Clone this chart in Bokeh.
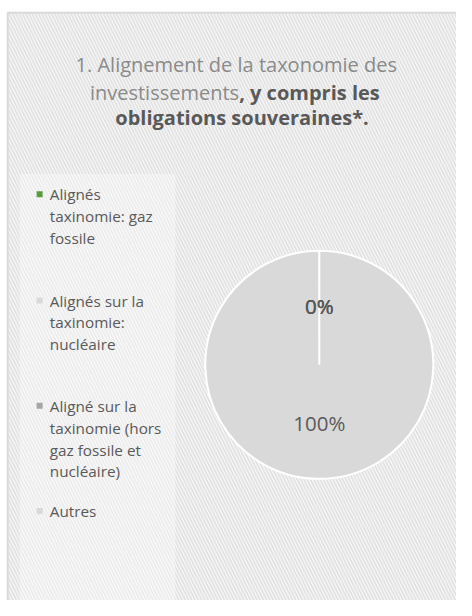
import math
from bokeh.plotting import figure
from bokeh.models import Range1d
from bokeh.core.properties import value
from bokeh.embed import file_html
from bokeh.resources import INLINE

# ---- data ----
categories = [
    "Alignés\ntaxinomie: gaz\nfossile",
    "Alignés sur la\ntaxinomie:\nnucléaire",
    "Aligné sur la\ntaxinomie (hors\ngaz fossile et\nnucléaire)",
    "Autres",
]
values = [0, 0, 0, 100]
colors = ["#5a9a3d", "#d9d9d9", "#a6a6a6", "#d9d9d9"]
title_line1 = "1. Alignement de la taxonomie des"
title_line2a = "investissements"
title_line2b = ", y compris les"
title_line3 = "obligations souveraines*."

W, H = 456, 600          # figure size in screen px
RW, RH = 472, 616        # layout units
FONT = value("Open Sans")

p = figure(width=W, height=H, output_backend="svg", toolbar_location=None,
           x_range=Range1d(0, RW), y_range=Range1d(RH, 0), min_border=0)
p.axis.visible = False
p.grid.visible = False
p.outline_line_color = None
p.background_fill_color = "white"
p.border_fill_color = "white"

# hatched chart area + border
p.quad(left=[8], right=[RW], top=[13], bottom=[RH], fill_color="white",
       hatch_pattern="left_diagonal_line", hatch_color="#e0e0e0",
       hatch_scale=6.5, hatch_weight=1.9, line_color=None)
p.line(x=[7.5, 7.5, RW], y=[RH, 12.5, 12.5], line_color="#d9d9d9", line_width=2)

# legend panel
p.quad(left=[20], right=[181], top=[178], bottom=[RH], fill_color="white",
       fill_alpha=0.35, line_color=None)

# title
TS = "20px"
p.text(x=[244], y=[66], text=[title_line1], text_font=FONT, text_font_size=TS,
       text_color="#8a8a8a", text_align="center", text_baseline="alphabetic")
p.text(x=[247], y=[94], text=[title_line2a], text_font=FONT, text_font_size=TS,
       text_color="#8a8a8a", text_align="right", text_baseline="alphabetic")
p.text(x=[247], y=[94], text=[title_line2b], text_font=FONT, text_font_size=TS,
       text_font_style="bold", text_color="#595959", text_align="left",
       text_baseline="alphabetic")
p.text(x=[250], y=[120], text=[title_line3], text_font=FONT, text_font_size=TS,
       text_font_style="bold", text_color="#595959", text_align="center",
       text_baseline="alphabetic")

# pie
cx, cy, r = 330, 374, 118
total = float(sum(values))
cum = 0.0
lx, ly, lt = [], [], []
for v, c in zip(values, colors):
    start = math.pi / 2 - 2 * math.pi * cum / total
    end = math.pi / 2 - 2 * math.pi * (cum + v) / total
    mid = (start + end) / 2
    if v > 0:
        sweep = min(start - end, 2 * math.pi - 1e-3)
        p.wedge(x=[cx], y=[cy], radius=r, start_angle=[start], end_angle=[start - sweep],
                direction="clock", fill_color=c, line_color="white", line_width=2)
    lx.append(cx + 0.5 * r * math.cos(mid))
    ly.append(cy - 0.51 * r * math.sin(mid))
    lt.append(f"{v / total * 100:.0f}%")
    cum += v
p.text(x=lx, y=ly, text=lt, text_font=FONT, text_font_size="20.5px",
       text_color="#595959", text_align="center", text_baseline="middle")

# legend
entry_y = [199, 308, 416, 524]
line_h = 22.5
for cat, c, y0 in zip(categories, colors, entry_y):
    p.scatter(x=[40.5], y=[y0], marker="square", size=6, fill_color=c, line_color=None)
    lines = cat.split("\n")
    p.text(x=[51] * len(lines), y=[y0 + i * line_h for i in range(len(lines))],
           text=lines, text_font=FONT, text_font_size="15.3px", text_color="#595959",
           text_align="left", text_baseline="middle")

open("out.html", "w").write(file_html(p, INLINE))
